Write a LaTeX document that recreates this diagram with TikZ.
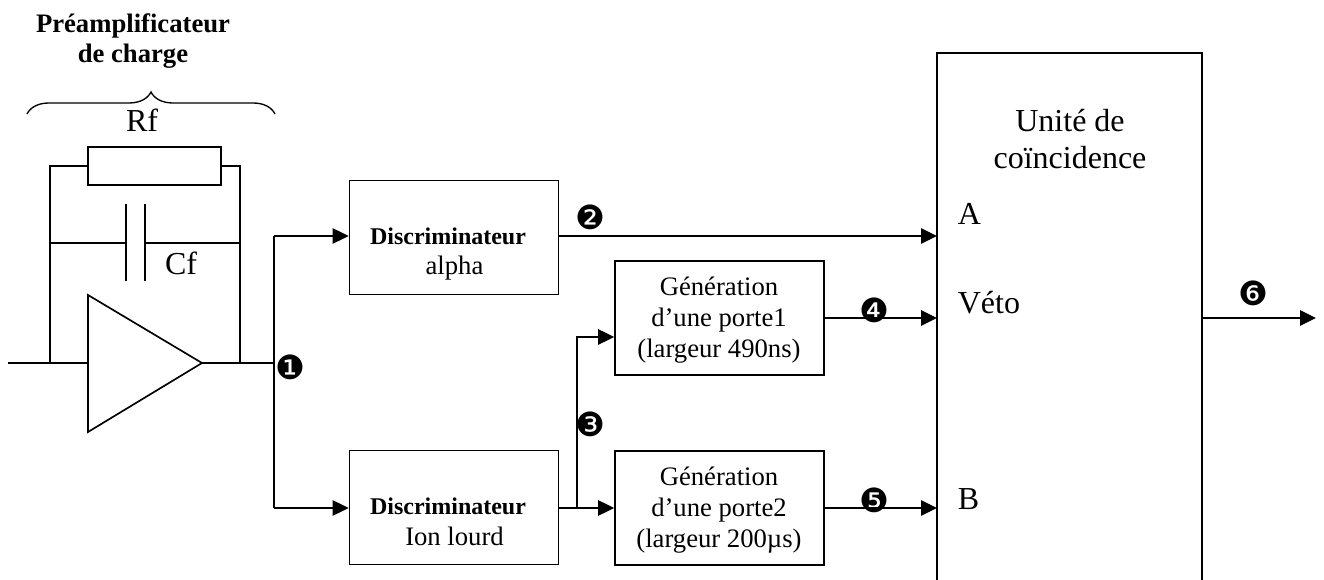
\documentclass[tikz,border=0pt]{standalone}
\usepackage{fontspec}
\setmainfont{Liberation Serif}
\newfontfamily\symbfont{DejaVu Sans}
\usetikzlibrary{arrows.meta, decorations.pathreplacing}

\begin{document}
\begin{tikzpicture}[
    x=0.75pt, y=-0.75pt,
    line width=1.25pt,
    signalarrow/.style={
        -{Triangle[length=12pt, width=11.5pt]},
    },
    blockbox/.style={
        draw,
        inner sep=0pt,
        minimum width=156.75pt,
        minimum height=85.5pt,
    },
    blocktext/.style={
        align=center,
        inner sep=0pt,
        font=\fontsize{20}{23}\selectfont,
    },
    coinctext/.style={
        align=center,
        inner sep=0pt,
        font=\fontsize{24}{27.5}\selectfont,
    },
    marknum/.style={
        inner sep=0pt,
        font=\symbfont\fontsize{25}{25}\selectfont,
    },
]
\useasboundingbox (0,0) rectangle (1324,580);

% =============================================
% PREAMPLIFIER - title, brace, feedback loop
% =============================================
\node[align=center, inner sep=0pt, font=\fontsize{20}{22.5}\selectfont\bfseries] (preamptitle) at (133,41) {Préamplificateur\\de charge};
\draw[decorate, decoration={brace, amplitude=16.5pt, aspect=0.5}, line width=1pt]
    (27,114) -- (275,114);
\node[inner sep=0pt, font=\fontsize{24}{26}\selectfont] (rflabel) at (142,120) {Rf};
\node[inner sep=0pt, font=\fontsize{24}{26}\selectfont] (cflabel) at (181,263) {Cf};

% Resistor
\node[draw, inner sep=0pt, minimum width=99.75pt, minimum height=28.5pt] (resistor) at (154.5,166) {};
% Capacitor plates
\coordinate (capl) at (126,243);
\coordinate (capr) at (145,243);
\draw (126,204) -- (126,281);
\draw (145,204) -- (145,281);
% Amplifier
\draw (88,295) coordinate (ampin1) -- (88,432) -- (202,363) coordinate (ampout) -- cycle;
\coordinate (ampin) at (88,363);
% Wires
\coordinate (input) at (8,363);
\coordinate (nodein) at (50,363);
\coordinate (nodeout) at (240,363);
\coordinate (branch) at (274,363);
\draw (input) -- (ampin);
\draw (ampout) -- (branch);
\draw (nodein) -- (50,243) coordinate (capin) -- (50,166) -- (resistor.west);
\draw (nodeout) -- (240,243) coordinate (capout) -- (240,166) -- (resistor.east);
\draw (capin) -- (capl);
\draw (capr) -- (capout);

% =============================================
% BLOCKS
% =============================================
\node[blockbox] (discalpha) at (454,237.5) {};
\node[blockbox] (discion) at (454,507.5) {};
\node[blockbox] (portea) at (719.5,318) {};
\node[blockbox] (porteb) at (719.5,508) {};

\node[blocktext] (discalphatext) at (448,254) {{\fontsize{18}{23}\selectfont\bfseries Discriminateur}\\\hspace*{9.75pt}alpha};
\node[blocktext] (disciontext) at (448,522) {{\fontsize{18}{23}\selectfont\bfseries Discriminateur}\\\hspace*{9.75pt}Ion lourd};
\node[blocktext] (porteatext) at (719,320) {Génération\\d’une porte1\\(largeur 490ns)};
\node[blocktext] (portebtext) at (719,510) {Génération\\d’une porte2\\(largeur 200µs)};

% Coincidence unit, open at the bottom
\draw (937,580) -- (937,53) -- (1202,53) -- (1202,580);
\node[coinctext] (coinctitle) at (1070,139) {Unité de\\coïncidence};
\node[coinctext, anchor=base west] (inputa) at (957,225) {A};
\node[coinctext, anchor=base west] (inputv) at (957,314) {Véto};
\node[coinctext, anchor=base west] (inputb) at (957,509) {B};

\coordinate (coinca) at (937,236);
\coordinate (coincv) at (937,318);
\coordinate (coincb) at (937,508);
\coordinate (coincout) at (1202,318);
\coordinate (output) at (1316,318);
\coordinate (fork) at (577,508);

% =============================================
% CONNECTIONS
% =============================================
\draw (branch) -- (274,236) coordinate (upper);
\draw (branch) -- (274,508) coordinate (lower);
\draw[signalarrow] (upper) -- (discalpha.west |- upper);
\draw[signalarrow] (lower) -- (discion.west |- lower);
\draw[signalarrow] (discalpha.east |- coinca) -- (coinca);
\draw (discion.east |- fork) -- (fork);
\draw[signalarrow] (fork) -- (porteb.west);
\draw[signalarrow] (fork) -- (577,337) -- (portea.west |- 577,337);
\draw[signalarrow] (portea.east) -- (coincv);
\draw[signalarrow] (porteb.east) -- (coincb);
\draw[signalarrow] (coincout) -- (output);

% Numbered marks
\node[marknum] (mark1) at (290,367) {❶};
\node[marknum] (mark2) at (590,217) {❷};
\node[marknum] (mark3) at (590,424) {❸};
\node[marknum] (mark4) at (874,310) {❹};
\node[marknum] (mark5) at (874,500) {❺};
\node[marknum] (mark6) at (1253,293) {❻};

\end{tikzpicture}
\end{document}
